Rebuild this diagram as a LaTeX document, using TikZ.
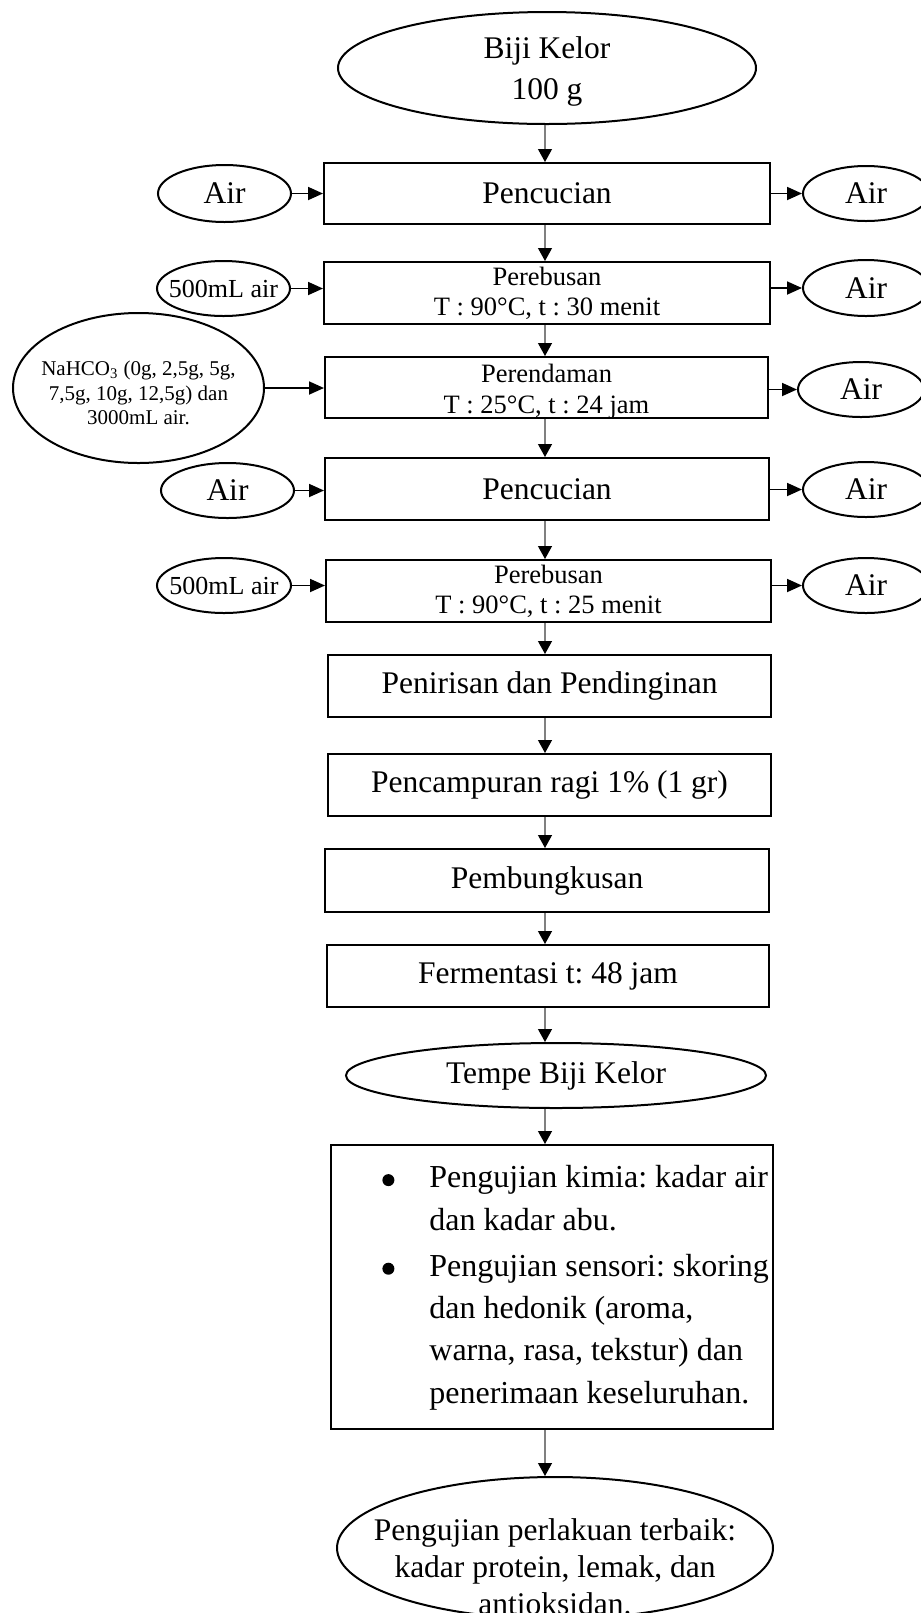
\documentclass[tikz,border=0pt]{standalone}
\usepackage{fontspec}
\setmainfont{Liberation Serif}
\usetikzlibrary{shapes.geometric,arrows.meta}
\frenchspacing
\newcommand{\bigdot}{\raisebox{0.8pt}{\tikz\fill (0,0) circle (3pt);}}
\begin{document}
\begin{tikzpicture}[x=0.5pt,y=-0.5pt,
  box/.style={draw,line width=1pt,rectangle,inner sep=0pt,align=center},
  oval/.style={draw,line width=1pt,ellipse,inner sep=0pt},
  bigf/.style={font=\fontsize{15.75}{19}\selectfont},
  midf/.style={font=\fontsize{13.25}{15}\selectfont},
  smlf/.style={font=\fontsize{13}{15}\selectfont},
  varrow/.style={draw=gray,line width=0.6pt,-{Triangle[length=6.5pt,width=7pt,color=black]}},
  harrow/.style={draw=black,line width=0.9pt,-{Triangle[length=7.5pt,width=6.5pt]}}
]
\useasboundingbox (0,0) rectangle (921,1613);
\clip (0,0) rectangle (921,1613);
\coordinate (ax) at (545,0);

% main column
\node[oval, minimum width=209pt, minimum height=56pt,
  label={[align=center, font=\fontsize{15.75}{20.5}\selectfont, yshift=-1.5pt]center:{Biji Kelor\\100 g}}] (top) at (547,68) {};
\node[box, bigf, minimum width=223pt, minimum height=30.5pt] (B1) at (547,193.5) {Pencucian};
\node[box, midf, minimum width=223pt, minimum height=31pt] (B2) at (547,293) {Perebusan\\T : 90°C, t : 30 menit};
\node[box, minimum width=221.5pt, minimum height=30.5pt,
  label={[align=center, font=\fontsize{13.25}{15.5}\selectfont, yshift=-2pt]center:{Perendaman\\T : 25°C, t : 24 jam}}] (B3) at (546.5,387.5) {};
\node[box, bigf, minimum width=222pt, minimum height=31pt] (B4) at (547,489) {Pencucian};
\node[box, midf, minimum width=222.5pt, minimum height=31pt] (B5) at (548.5,591) {Perebusan\\T : 90°C, t : 25 menit};
\node[box, bigf, minimum width=221.5pt, minimum height=31pt] (B6) at (549.5,686) {Penirisan dan Pendinginan};
\node[box, bigf, minimum width=221.5pt, minimum height=31pt] (B7) at (549.5,785) {Pencampuran ragi 1\% (1 gr)};
\node[box, bigf, minimum width=222pt, minimum height=31.5pt] (B8) at (547,880.5) {Pembungkusan};
\node[box, bigf, minimum width=221pt, minimum height=31pt] (B9) at (548,976) {Fermentasi t: 48 jam};
\node[oval, minimum width=210pt, minimum height=32.5pt,
  label={[bigf]center:{Tempe Biji Kelor}}] (TE) at (556,1075.5) {};
\node[box, minimum width=221pt, minimum height=142pt] (B10) at (552,1287) {};
\node[anchor=west, inner sep=0pt, font=\fontsize{16}{21.15}\selectfont] (T10) at (382,1287)
  {\begin{tabular}{@{}l@{\hspace{17.5pt}}l@{}}
   \bigdot & Pengujian kimia: kadar air\\
           & dan kadar abu.\\[2pt]
   \bigdot & Pengujian sensori: skoring\\
           & dan hedonik (aroma,\\
           & warna, rasa, tekstur) dan\\
           & penerimaan keseluruhan.
   \end{tabular}};
\node[oval, minimum width=218pt, minimum height=71pt,
  label={[align=center, font=\fontsize{15.75}{18.5}\selectfont, yshift=-9.5pt]center:{Pengujian perlakuan terbaik:\\kadar protein, lemak, dan\\antioksidan.}}] (FE) at (555,1548) {};

% left inputs
\node[oval, minimum width=66.5pt, minimum height=28.5pt, label={[bigf]center:Air}] (L1) at (224.5,193.5) {};
\node[oval, minimum width=66.5pt, minimum height=27.5pt, label={[smlf]center:{500mL air}}] (L2) at (223.5,288.5) {};
\node[oval, minimum width=125.5pt, minimum height=75pt,
  label={[align=center, font=\fontsize{10.5}{12.25}\selectfont, yshift=-2.5pt]center:{NaHCO\textsubscript{3} (0g, 2,5g, 5g,\\7,5g, 10g, 12,5g) dan\\3000mL air.}}] (L3) at (138.5,388) {};
\node[oval, minimum width=66.5pt, minimum height=27.5pt, label={[bigf]center:Air}] (L4) at (227.5,490.5) {};
\node[oval, minimum width=67pt, minimum height=27.5pt, label={[smlf]center:{500mL air}}] (L5) at (224,585.5) {};

% right outputs
\node[oval, minimum width=63pt, minimum height=27.5pt, label={[bigf]center:Air}] (R1) at (866,193.5) {};
\node[oval, minimum width=63pt, minimum height=28pt, label={[bigf]center:Air}] (R2) at (866,288) {};
\node[oval, minimum width=63pt, minimum height=27.5pt, label={[bigf]center:Air}] (R3) at (861,389.5) {};
\node[oval, minimum width=63pt, minimum height=27.5pt, label={[bigf]center:Air}] (R4) at (866,489.5) {};
\node[oval, minimum width=63pt, minimum height=27.5pt, label={[bigf]center:Air}] (R5) at (866,585.5) {};

% vertical flow
\draw[varrow] (top.south -| ax) -- (B1.north -| ax);
\draw[varrow] (B1.south -| ax) -- (B2.north -| ax);
\draw[varrow] (B2.south -| ax) -- (B3.north -| ax);
\draw[varrow] (B3.south -| ax) -- (B4.north -| ax);
\draw[varrow] (B4.south -| ax) -- (B5.north -| ax);
\draw[varrow] (B5.south -| ax) -- (B6.north -| ax);
\draw[varrow] (B6.south -| ax) -- (B7.north -| ax);
\draw[varrow] (B7.south -| ax) -- (B8.north -| ax);
\draw[varrow] (B8.south -| ax) -- (B9.north -| ax);
\draw[varrow] (B9.south -| ax) -- (TE.north -| ax);
\draw[varrow] (TE.south -| ax) -- (B10.north -| ax);
\draw[varrow] (B10.south -| ax) -- (FE.north -| ax);

% inputs
\draw[harrow] (L1.east) -- (L1.east -| B1.west);
\draw[harrow] (L2.east) -- (L2.east -| B2.west);
\draw[harrow] (L3.east) -- (L3.east -| B3.west);
\draw[harrow] (L4.east) -- (L4.east -| B4.west);
\draw[harrow] (L5.east) -- (L5.east -| B5.west);

% outputs
\draw[harrow] (R1.west -| B1.east) -- (R1.west);
\draw[harrow] (R2.west -| B2.east) -- (R2.west);
\draw[harrow] (R3.west -| B3.east) -- (R3.west);
\draw[harrow] (R4.west -| B4.east) -- (R4.west);
\draw[harrow] (R5.west -| B5.east) -- (R5.west);
\end{tikzpicture}
\end{document}
